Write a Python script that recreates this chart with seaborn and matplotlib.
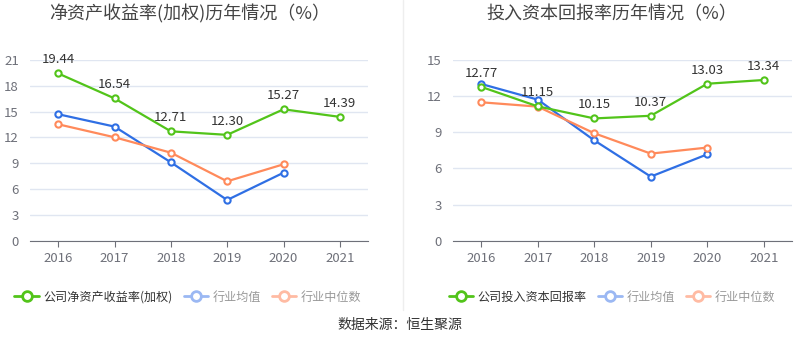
import numpy as np
import matplotlib
matplotlib.use("Agg")
import matplotlib.pyplot as plt
import seaborn as sns
from matplotlib.lines import Line2D

years = ["2016", "2017", "2018", "2019", "2020", "2021"]

# ROE (weighted)
roe_company = [19.44, 16.54, 12.71, 12.30, 15.27, 14.39]
roe_ind_mean = [14.70, 13.26, 9.11, 4.73, 7.90, np.nan]
roe_ind_median = [13.53, 12.02, 10.23, 6.90, 8.88, np.nan]

# return on invested capital
roic_company = [12.77, 11.15, 10.15, 10.37, 13.03, 13.34]
roic_ind_mean = [13.01, 11.71, 8.33, 5.32, 7.17, np.nan]
roic_ind_median = [11.49, 11.13, 8.92, 7.23, 7.73, np.nan]

titles = ["净资产收益率(加权)历年情况（%）", "投入资本回报率历年情况（%）"]
legend_names = [["公司净资产收益率(加权)", "行业均值", "行业中位数"],
                ["公司投入资本回报率", "行业均值", "行业中位数"]]
yticks = [[0, 3, 6, 9, 12, 15, 18, 21], [0, 3, 6, 9, 12, 15]]
source = "数据来源：恒生聚源"

sns.set_style("white")
plt.rcParams["font.family"] = ["Noto Sans CJK SC", "DejaVu Sans"]

green = "#52c41a"
blue = "#2f6fe4"
orange = "#ff8a5b"

fig = plt.figure(figsize=(8, 3.58), dpi=100)
ax1 = fig.add_axes([30 / 800, 117.3 / 358, 338 / 800, 180.7 / 358])
ax2 = fig.add_axes([453 / 800, 117.3 / 358, 339 / 800, 180.7 / 358])

datasets = [(roe_company, roe_ind_mean, roe_ind_median),
            (roic_company, roic_ind_mean, roic_ind_median)]

xs = np.arange(len(years))
for ax, (comp, mean, med), ticks in zip([ax1, ax2], datasets, yticks):
    for vals, c in [(mean, blue), (med, orange), (comp, green)]:
        sns.lineplot(x=xs, y=vals, ax=ax, color=c, lw=1.6, marker="o",
                     markersize=4.5, markerfacecolor="white",
                     markeredgecolor=c, markeredgewidth=1.5)
    for x, v in zip(xs, comp):
        ax.annotate(f"{v:.2f}", (x, v), xytext=(0, 5), textcoords="offset points",
                    ha="center", va="bottom", fontsize=9.5, color="#333333")
    ax.set_xlim(-0.5, len(years) - 0.5)
    ax.set_ylim(ticks[0], ticks[-1])
    ax.set_yticks(ticks)
    ax.set_xticks(xs, years)
    ax.grid(axis="y", color="#e0e6f1", lw=1)
    for s in ["top", "right", "left"]:
        ax.spines[s].set_visible(False)
    ax.spines["bottom"].set_color("#6e7079")
    ax.tick_params(axis="y", length=0, labelsize=9.5, labelcolor="#6e7079", pad=8)
    ax.tick_params(axis="x", length=4, color="#6e7079", labelsize=9.5,
                   labelcolor="#6e7079", pad=4, bottom=True)
    ax.set_axisbelow(True)

fig.text(190 / 800, 1 - 14 / 358, titles[0], ha="center", va="center",
         fontsize=13, color="#444444")
fig.text(612 / 800, 1 - 14 / 358, titles[1], ha="center", va="center",
         fontsize=13, color="#444444")

# divider
fig.add_artist(Line2D([403 / 800, 403 / 800], [1 - 310 / 358, 1.0],
                      color="#eeeeee", lw=1))

for names, cx in zip(legend_names, [188 / 800, 612 / 800]):
    handles = [
        Line2D([], [], color=green, lw=2, marker="o", markersize=7,
               markerfacecolor="white", markeredgewidth=2),
        Line2D([], [], color="#9bb8f3", lw=2, marker="o", markersize=7,
               markerfacecolor="white", markeredgewidth=2),
        Line2D([], [], color="#ffbba3", lw=2, marker="o", markersize=7,
               markerfacecolor="white", markeredgewidth=2),
    ]
    leg = fig.legend(handles, names, loc="center", bbox_to_anchor=(cx, 1 - 297 / 358),
                     ncol=3, frameon=False, fontsize=8.7, handlelength=2.0,
                     handletextpad=0.4, columnspacing=0.9)
    for t, c in zip(leg.get_texts(), ["#333333", "#999999", "#999999"]):
        t.set_color(c)

fig.text(0.5, 1 - 325 / 358, source, ha="center", va="center",
         fontsize=10, color="#333333")

fig.savefig("out.png", dpi=100)
